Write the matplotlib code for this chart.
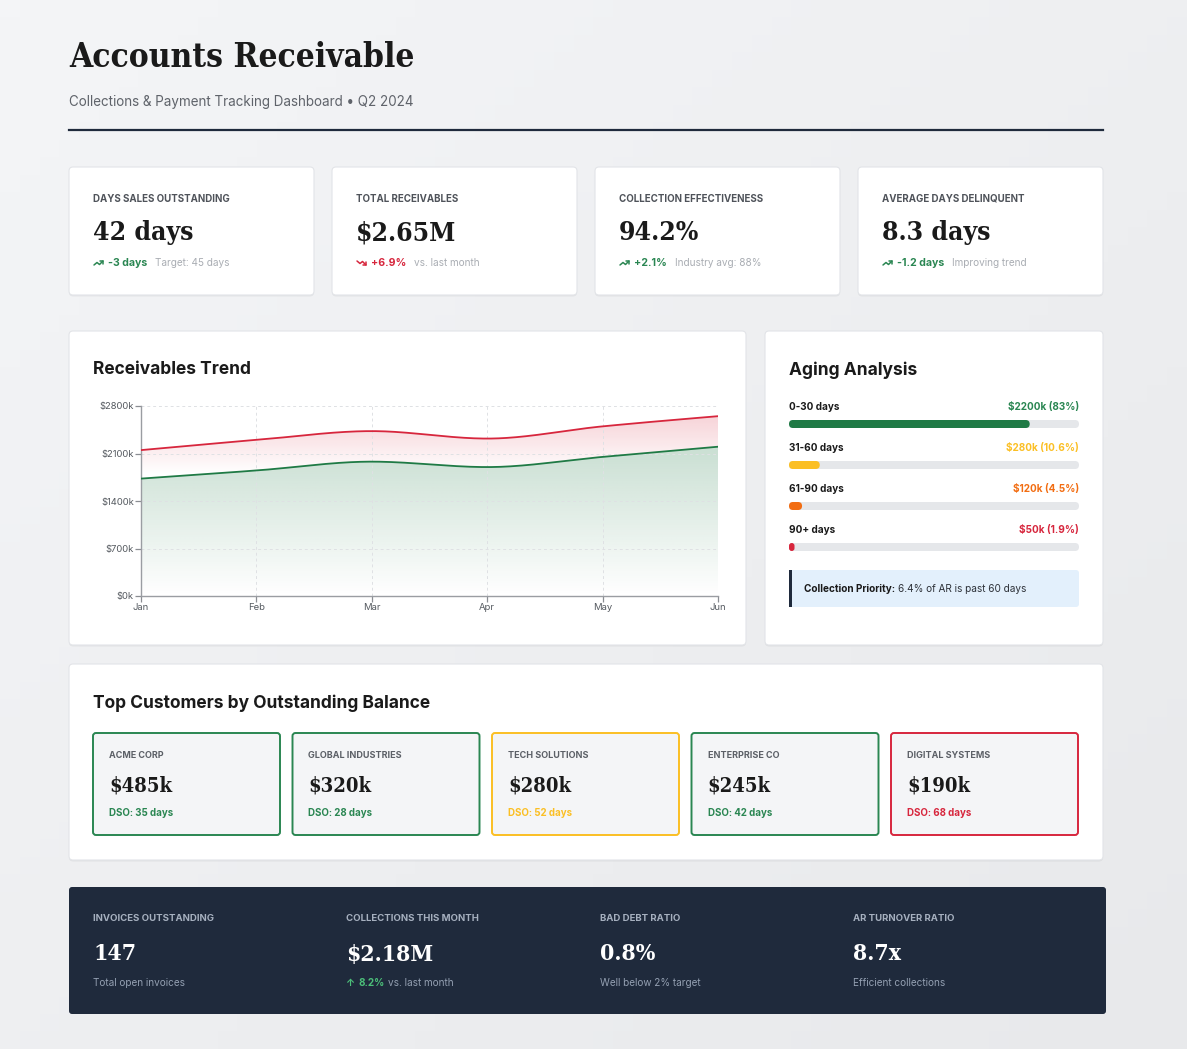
import numpy as np
import matplotlib
matplotlib.use('Agg')
import matplotlib.pyplot as plt
from matplotlib.patches import FancyBboxPatch, Rectangle, Polygon

# fonts
SANS = ['Inter', 'DejaVu Sans']
SERIF = ['DejaVu Serif']
plt.rcParams['font.family'] = SANS

# data
months = ['Jan', 'Feb', 'Mar', 'Apr', 'May', 'Jun']
total_recv = [2150, 2300, 2430, 2320, 2500, 2650]
collected = [1730, 1850, 1980, 1900, 2050, 2200]
y_ticks = [0, 700, 1400, 2100, 2800]

kpi_labels = ['DAYS SALES OUTSTANDING', 'TOTAL RECEIVABLES',
              'COLLECTION EFFECTIVENESS', 'AVERAGE DAYS DELINQUENT']
kpi_values = ['42 days', '$2.65M', '94.2%', '8.3 days']
kpi_deltas = ['-3 days', '+6.9%', '+2.1%', '-1.2 days']
kpi_notes = ['Target: 45 days', 'vs. last month', 'Industry avg: 88%', 'Improving trend']
kpi_good = [True, False, True, True]

aging_labels = ['0-30 days', '31-60 days', '61-90 days', '90+ days']
aging_values = [2200, 280, 120, 50]
aging_pct = [83, 10.6, 4.5, 1.9]

customers = ['ACME CORP', 'GLOBAL INDUSTRIES', 'TECH SOLUTIONS', 'ENTERPRISE CO', 'DIGITAL SYSTEMS']
cust_balance = [485, 320, 280, 245, 190]
cust_dso = [35, 28, 52, 42, 68]

footer_labels = ['INVOICES OUTSTANDING', 'COLLECTIONS THIS MONTH', 'BAD DEBT RATIO', 'AR TURNOVER RATIO']
footer_values = ['147', '$2.18M', '0.8%', '8.7x']
footer_notes = ['Total open invoices', '8.2% vs. last month', 'Well below 2% target', 'Efficient collections']

# colours
GREEN = '#1f7a45'
GREEN_T = '#2a8652'
RED = '#d7263d'
YELLOW = '#fbbf24'
ORANGE = '#f26d12'
NAVY = '#1f2a3c'
INK = '#1a1a1a'
LIGHT = '#a9adb3'
aging_colors = [GREEN, YELLOW, ORANGE, RED]

W, H = 1187, 1049
fig = plt.figure(figsize=(W / 100, H / 100), dpi=100)
bg = fig.add_axes([0, 0, 1, 1], zorder=0)
bg.set_xlim(0, W)
bg.set_ylim(H, 0)
bg.axis('off')

# page background, soft gradient
gx, gy = np.meshgrid(np.linspace(0, 1, 60), np.linspace(0, 1, 60))
g = 0.5 * gx + 0.5 * gy
c0 = np.array([0.957, 0.961, 0.969])
c1 = np.array([0.910, 0.914, 0.922])
img = c0 + (c1 - c0) * g[..., None]
bg.imshow(img, extent=[0, W, H, 0], aspect='auto', zorder=0)

renderer = fig.canvas.get_renderer()


def rbox(x, y, w, h, fc, ec='none', lw=0, r=4, z=1, alpha=1):
    r = min(r, w / 2, h / 2)
    p = FancyBboxPatch((x, y), w, h, boxstyle=f'round,pad=0,rounding_size={r}',
                       fc=fc, ec=ec, lw=lw, zorder=z, alpha=alpha)
    bg.add_patch(p)
    return p


def card(x, y, w, h):
    rbox(x, y + 1.5, w, h, '#000000', alpha=0.05, z=1)
    rbox(x, y, w, h, 'white', ec='#e2e4e8', lw=0.8, z=2)


def txt(x, y, s, size, color, weight='normal', family=SANS, ha='left', va='center', z=5, stretch='normal'):
    return bg.text(x, y, s, fontsize=size, color=color, fontweight=weight,
                   family=family, ha=ha, va=va, zorder=z, fontstretch=stretch)


def serif(x, y, s, size, color):
    return txt(x, y + 1.5, s, size, color, 'bold', SERIF, stretch='condensed')


def runs(x, y, parts, gap=4):
    for s, size, color, weight in parts:
        t = txt(x, y, s, size, color, weight)
        x += t.get_window_extent(renderer).width + gap
    return x


def trend_icon(x, y, color, up=True):
    # screen y grows downwards, so "up" means negative offsets
    s = 1 if up else -1
    line = np.array([[0, 2], [3, -0.5], [5.5, 1.5], [9, -2]], float)
    head = np.array([[6, -2], [9, -2], [9, 1]], float)
    for pts in (line, head):
        bg.plot(x + pts[:, 0], y + s * pts[:, 1], color=color, lw=1.1, zorder=5,
                solid_capstyle='round', solid_joinstyle='round')


# header
serif(69, 56, 'Accounts Receivable', 24, INK)
txt(69, 102, 'Collections & Payment Tracking Dashboard \u2022 Q2 2024', 9.7, '#5f636a')
bg.plot([69, 1103], [130, 130], color=NAVY, lw=1.6, zorder=3)

# KPI cards
for i in range(4):
    x0 = 69 + i * 263
    card(x0, 167, 245, 128)
    txt(x0 + 24, 198.5, kpi_labels[i], 7, '#4f535a', 'bold')
    serif(x0 + 24, 231, kpi_values[i], 19, INK)
    col = GREEN_T if kpi_good[i] else RED
    trend_icon(x0 + 25, 263, col, up=kpi_good[i])
    runs(x0 + 39, 263, [(kpi_deltas[i], 7.6, col, 'bold'),
                        (kpi_notes[i], 7.2, LIGHT, 'normal')], gap=8)

# receivables trend card
card(69, 331, 677, 314)
txt(93, 368, 'Receivables Trend', 12.5, INK, 'bold', va='center_baseline')

L, R, T, B = 141, 718, 406, 596
ax = fig.add_axes([L / W, (H - B) / H, (R - L) / W, (B - T) / H], zorder=3)
ax.patch.set_alpha(0)


def monotone(xs, ys, n=60):
    xs = np.asarray(xs, float)
    ys = np.asarray(ys, float)
    h = np.diff(xs)
    s = np.diff(ys) / h
    m = np.zeros(len(xs))
    for i in range(1, len(xs) - 1):
        p = (s[i - 1] * h[i] + s[i] * h[i - 1]) / (h[i - 1] + h[i])
        m[i] = (np.sign(s[i - 1]) + np.sign(s[i])) * min(abs(s[i - 1]), abs(s[i]), 0.5 * abs(p))
    m[0] = (3 * s[0] - m[1]) / 2
    m[-1] = (3 * s[-1] - m[-2]) / 2
    ox, oy = [], []
    for i in range(len(xs) - 1):
        t = np.linspace(0, 1, n, endpoint=(i == len(xs) - 2))
        h00 = 2 * t**3 - 3 * t**2 + 1
        h10 = t**3 - 2 * t**2 + t
        h01 = -2 * t**3 + 3 * t**2
        h11 = t**3 - t**2
        ox.append(xs[i] + t * h[i])
        oy.append(h00 * ys[i] + h10 * h[i] * m[i] + h01 * ys[i + 1] + h11 * h[i] * m[i + 1])
    return np.concatenate(ox), np.concatenate(oy)


xi = np.arange(len(months))
rx, ry = monotone(xi, total_recv)
gx2, gy2 = monotone(xi, collected)


def grad_fill(poly_xy, color, a_top, a_bot, y_top, y_bot):
    rgb = matplotlib.colors.to_rgb(color)
    yy = np.linspace(2800, 0, 200)
    a = a_bot + (a_top - a_bot) * (yy - y_bot) / (y_top - y_bot)
    a = np.clip(a, min(a_top, a_bot), max(a_top, a_bot))
    arr = np.zeros((200, 2, 4))
    arr[..., :3] = rgb
    arr[..., 3] = a[:, None]
    im = ax.imshow(arr, extent=[0, 5, 0, 2800], aspect='auto', zorder=1, interpolation='bilinear')
    poly = Polygon(poly_xy, closed=True, fc='none', ec='none')
    ax.add_patch(poly)
    im.set_clip_path(poly)


red_poly = np.vstack([np.column_stack([rx, ry]), np.column_stack([gx2[::-1], gy2[::-1]])])
grad_fill(red_poly, RED, 0.20, 0.0, 2650, 1800)
green_poly = np.vstack([np.column_stack([gx2, gy2]), [[5, 0], [0, 0]]])
grad_fill(green_poly, GREEN, 0.24, 0.0, 2200, 0)

ax.plot(rx, ry, color=RED, lw=1.3, zorder=3)
ax.plot(gx2, gy2, color=GREEN, lw=1.3, zorder=3)

ax.set_xlim(0, 5)
ax.set_ylim(0, 2800)
ax.set_xticks(xi)
ax.set_xticklabels(months)
ax.set_yticks(y_ticks)
ax.set_yticklabels([f'${v}k' for v in y_ticks])
ax.tick_params(labelsize=6.8, colors='#8a8d92', labelcolor='#555a60', length=4, width=0.9, pad=1)
ax.grid(True, ls=(0, (3, 3)), color='#dfe1e4', lw=0.7, zorder=0)
for sp in ['top', 'right']:
    ax.spines[sp].set_visible(False)
for sp in ['left', 'bottom']:
    ax.spines[sp].set_color('#9a9da2')
    ax.spines[sp].set_linewidth(1.0)

# aging analysis card
card(765, 331, 338, 314)
txt(789, 368, 'Aging Analysis', 12.5, INK, 'bold', va='center_baseline')
bx, bw = 789, 290
for i in range(4):
    y0 = 407 + i * 41
    col = aging_colors[i]
    tcol = GREEN_T if i == 0 else col
    txt(bx, y0, aging_labels[i], 7.2, INK, 'bold')
    txt(bx + bw, y0, f'${aging_values[i]}k ({aging_pct[i]}%)', 7.2, tcol, 'bold', ha='right')
    rbox(bx, y0 + 13, bw, 8, '#e5e7ea', r=4, z=3)
    rbox(bx, y0 + 13, bw * aging_pct[i] / 100, 8, col, r=4, z=4)

rbox(789, 570, 290, 37, '#e3f0fc', r=3, z=3)
bg.add_patch(Rectangle((789, 570), 2.5, 37, fc=NAVY, zorder=4))
runs(804, 589, [('Collection Priority:', 7.2, INK, 'bold'),
                ('6.4% of AR is past 60 days', 7.2, '#2d3138', 'normal')], gap=3)

# top customers card
card(69, 664, 1034, 196)
txt(93, 701, 'Top Customers by Outstanding Balance', 12.5, INK, 'bold', va='center_baseline')
for i in range(5):
    x0 = 93 + i * 199.5
    d = cust_dso[i]
    col = GREEN_T if d <= 45 else (YELLOW if d <= 60 else RED)
    rbox(x0, 733, 187, 102, '#f4f5f7', ec=col, lw=1.4, r=3, z=3)
    txt(x0 + 16, 755.5, customers[i], 6.5, '#5c6067', 'bold')
    serif(x0 + 16, 784, f'${cust_balance[i]}k', 14.5, INK)
    txt(x0 + 16, 812.5, f'DSO: {d} days', 7, col, 'bold')

# dark footer
rbox(69, 887, 1037, 127, NAVY, r=3, z=2)
for i in range(4):
    x0 = 93 + i * 253.3
    txt(x0, 918.5, footer_labels[i], 6.9, '#a6b0bf', 'bold')
    serif(x0, 953, footer_values[i], 16.5, 'white')
    if i == 1:
        pct, rest = footer_notes[i].split(' ', 1)
        runs(x0, 982.5, [('\u2191', 7.2, '#4cc07a', 'bold'),
                         (pct, 7.2, '#4cc07a', 'bold'),
                         (rest, 7.2, '#94a0b2', 'normal')], gap=3)
    else:
        txt(x0, 982.5, footer_notes[i], 7.2, '#94a0b2')

fig.savefig('out.png', dpi=100)
